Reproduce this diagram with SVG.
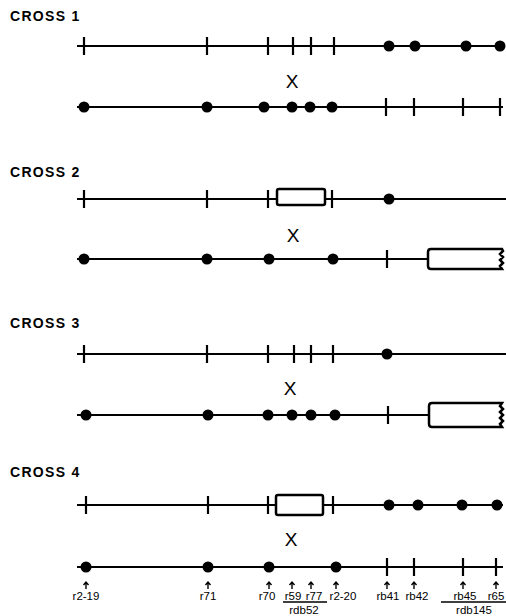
<svg xmlns="http://www.w3.org/2000/svg" width="506" height="616" viewBox="0 0 506 616">
<style>
.ln{stroke:#000;stroke-width:2.2;fill:none}
.tk{stroke:#000;stroke-width:2.2}
.dt{fill:#000}
.bx{fill:#fff;stroke:#000;stroke-width:2.5}
.ttl{font-family:"Liberation Sans",Arial,sans-serif;font-weight:bold;font-size:14px;letter-spacing:1.3px;fill:#000}
.x{font-family:"Liberation Sans",Arial,sans-serif;font-size:19px;fill:#000;text-anchor:middle}
.lb{font-family:"Liberation Sans",Arial,sans-serif;font-size:11.5px;fill:#000;text-anchor:middle}
.ar{stroke:#000;stroke-width:1.4;fill:none}
</style>
<defs>
<line id="t" x1="0" y1="-9" x2="0" y2="9" class="tk"/>
<circle id="d" r="5.5" class="dt"/>
<path id="up" d="M0,7 V0 M-2.5,3 L0,0 L2.5,3" class="ar"/>
</defs>
<rect width="506" height="616" fill="#fff"/>

<g id="cross1">
<text class="ttl" x="10" y="21">CROSS 1</text>
<g id="c1-top">
<line class="ln" x1="77" y1="46" x2="503" y2="46"/>
<use href="#t" x="84" y="46"/><use href="#t" x="207" y="46"/><use href="#t" x="268" y="46"/><use href="#t" x="293" y="46"/><use href="#t" x="311" y="46"/><use href="#t" x="334" y="46"/>
<use href="#d" x="389" y="46"/><use href="#d" x="415" y="46"/><use href="#d" x="466" y="46"/><use href="#d" x="500" y="46"/>
</g>
<text class="x" x="292" y="88">X</text>
<g id="c1-bottom">
<line class="ln" x1="77" y1="107" x2="503" y2="107"/>
<use href="#d" x="84" y="107"/><use href="#d" x="207" y="107"/><use href="#d" x="264" y="107"/><use href="#d" x="292" y="107"/><use href="#d" x="310" y="107"/><use href="#d" x="332" y="107"/>
<use href="#t" x="386" y="107"/><use href="#t" x="414" y="107"/><use href="#t" x="463" y="107"/><use href="#t" x="500" y="107"/>
</g>
</g>

<g id="cross2">
<text class="ttl" x="10" y="177">CROSS 2</text>
<g id="c2-top">
<line class="ln" x1="77" y1="199" x2="506" y2="199"/>
<use href="#t" x="84" y="199"/><use href="#t" x="207" y="199"/><use href="#t" x="268" y="199"/><use href="#t" x="332" y="199"/>
<rect class="bx" x="277" y="189" width="48" height="16" rx="2"/>
<use href="#d" x="389" y="199"/>
</g>
<text class="x" x="293" y="242">X</text>
<g id="c2-bottom">
<line class="ln" x1="77" y1="259" x2="430" y2="259"/>
<use href="#d" x="84" y="259"/><use href="#d" x="207" y="259"/><use href="#d" x="269" y="259"/><use href="#d" x="333" y="259"/>
<use href="#t" x="387" y="259"/>
<path class="bx" d="M502,249 H431 Q428,249 428,252 V266 Q428,269 431,269 H502 L500,266 L503,263 L500,260 L503,257 L500,254 L503,251 Z"/>
</g>
</g>

<g id="cross3">
<text class="ttl" x="10" y="328">CROSS 3</text>
<g id="c3-top">
<line class="ln" x1="77" y1="354" x2="506" y2="354"/>
<use href="#t" x="84" y="354"/><use href="#t" x="207" y="354"/><use href="#t" x="268" y="354"/><use href="#t" x="294" y="354"/><use href="#t" x="311" y="354"/><use href="#t" x="333" y="354"/>
<use href="#d" x="387" y="354"/>
</g>
<text class="x" x="290" y="395">X</text>
<g id="c3-bottom">
<line class="ln" x1="77" y1="415" x2="431" y2="415"/>
<use href="#d" x="86" y="415"/><use href="#d" x="208" y="415"/><use href="#d" x="268" y="415"/><use href="#d" x="292" y="415"/><use href="#d" x="311" y="415"/><use href="#d" x="335" y="415"/>
<use href="#t" x="388" y="415"/>
<path class="bx" d="M502,403 H432 Q429,403 429,406 V424 Q429,427 432,427 H502 L500,424 L503,421 L500,418 L503,415 L500,412 L503,409 L500,406 Z"/>
</g>
</g>

<g id="cross4">
<text class="ttl" x="10" y="477">CROSS 4</text>
<g id="c4-top">
<line class="ln" x1="77" y1="505" x2="503" y2="505"/>
<use href="#t" x="86" y="505"/><use href="#t" x="208" y="505"/><use href="#t" x="268" y="505"/><use href="#t" x="333" y="505"/>
<rect class="bx" x="276" y="495" width="47" height="20" rx="2"/>
<use href="#d" x="389" y="505"/><use href="#d" x="418" y="505"/><use href="#d" x="462" y="505"/><use href="#d" x="497" y="505"/>
</g>
<text class="x" x="291" y="546">X</text>
<g id="c4-bottom">
<line class="ln" x1="77" y1="567" x2="503" y2="567"/>
<use href="#d" x="86" y="567"/><use href="#d" x="208" y="567"/><use href="#d" x="269" y="567"/><use href="#d" x="336" y="567"/>
<use href="#t" x="387" y="567"/><use href="#t" x="414" y="567"/><use href="#t" x="463" y="567"/><use href="#t" x="496" y="567"/>
</g>
</g>

<g id="labels">
<use href="#up" x="86" y="582"/><use href="#up" x="208" y="582"/><use href="#up" x="269" y="582"/><use href="#up" x="292" y="582"/><use href="#up" x="311" y="582"/><use href="#up" x="336" y="582"/><use href="#up" x="387" y="582"/><use href="#up" x="414" y="582"/><use href="#up" x="463" y="582"/><use href="#up" x="496" y="582"/>
<text class="lb" x="86" y="600">r2-19</text>
<text class="lb" x="208" y="600">r71</text>
<text class="lb" x="267" y="600">r70</text>
<text class="lb" x="293" y="600">r59</text>
<text class="lb" x="314" y="600">r77</text>
<text class="lb" x="343" y="600">r2-20</text>
<text class="lb" x="388" y="600">rb41</text>
<text class="lb" x="417" y="600">rb42</text>
<text class="lb" x="465" y="600">rb45</text>
<text class="lb" x="496" y="600">r65</text>
<line class="ar" x1="283" y1="602" x2="327" y2="602"/>
<line class="ar" x1="441" y1="602" x2="506" y2="602"/>
<text class="lb" x="304" y="614">rdb52</text>
<text class="lb" x="474" y="614">rdb145</text>
</g>
</svg>
